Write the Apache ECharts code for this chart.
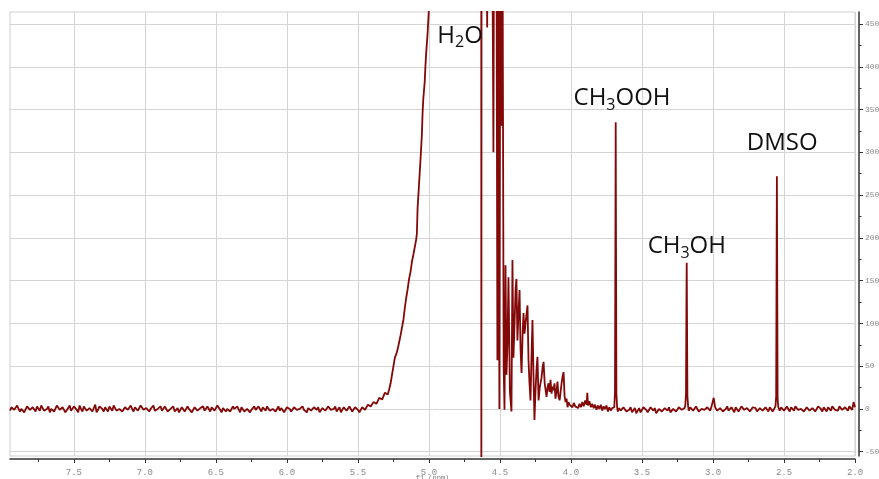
<!DOCTYPE html>
<html><head><meta charset="utf-8">
<script src="https://cdn.jsdelivr.net/npm/echarts@6/dist/echarts.min.js"></script>
<style>html,body{margin:0;padding:0;background:#fff}#c{width:879px;height:479px}</style>
</head><body><div id="c"></div>
<script>
// ---- axis ticks ----
const xTicks = [2.0, 2.5, 3.0, 3.5, 4.0, 4.5, 5.0, 5.5, 6.0, 6.5, 7.0, 7.5];
const xMinorTicks = [2.25, 2.75, 3.25, 3.75, 4.25, 4.75, 5.25, 5.75, 6.25, 6.75, 7.25, 7.75];
const yTicks = [-50, 0, 50, 100, 150, 200, 250, 300, 350, 400, 450];
const yMinorTicks = [-25, 25, 75, 125, 175, 225, 275, 325, 375, 425];
const xRange = [2.0, 7.95];
const yRange = [-55, 464];

// ---- spectrum: [ppm, intensity] ----
const baselineLeft = [
[7.95,-2],[7.93,1],[7.91,-3],[7.89,2],[7.87,0],[7.85,-4],[7.83,3],[7.81,-1],[7.79,2],[7.77,-3],
[7.75,1],[7.73,4],[7.71,-2],[7.69,0],[7.67,-4],[7.65,2],[7.63,-1],[7.61,3],[7.59,-3],[7.57,1],
[7.55,-2],[7.53,4],[7.51,-1],[7.49,2],[7.47,-4],[7.45,0],[7.43,3],[7.41,-2],[7.39,1],[7.37,-3],
[7.35,5],[7.33,-1],[7.31,2],[7.29,-3],[7.27,0],[7.25,3],[7.23,-2],[7.21,1],[7.19,-4],[7.17,2],
[7.15,-1],[7.13,3],[7.11,-3],[7.09,0],[7.07,2],[7.05,-2],[7.03,4],[7.01,-1],[6.99,1],[6.97,-3],
[6.95,2],[6.93,-2],[6.91,0],[6.89,3],[6.87,-4],[6.85,1],[6.83,-1],[6.81,2],[6.79,-3],[6.77,1],
[6.75,-2],[6.73,3],[6.71,-1],[6.69,0],[6.67,-4],[6.65,2],[6.63,-2],[6.61,1],[6.59,3],[6.57,-3],
[6.55,0],[6.53,2],[6.51,-2],[6.49,4],[6.47,-1],[6.45,1],[6.43,-3],[6.41,2],[6.39,-1],[6.37,0],
[6.35,3],[6.33,-4],[6.31,1],[6.29,-2],[6.27,2],[6.25,-1],[6.23,3],[6.21,-3],[6.19,0],[6.17,2],
[6.15,-2],[6.13,1],[6.11,-4],[6.09,2],[6.07,0],[6.05,-2],[6.03,3],[6.01,-1],[5.99,1],[5.97,-3],
[5.95,2],[5.93,-1],[5.91,0],[5.89,3],[5.87,-3],[5.85,1],[5.83,-2],[5.81,2],[5.79,-1],[5.77,-4],
[5.75,1],[5.73,-2],[5.71,3],[5.69,-1],[5.67,0],[5.65,-3],[5.63,2],[5.61,-1],[5.59,1],[5.57,-4],
[5.55,0],[5.53,-2],[5.51,1],[5.49,-4],[5.47,2],[5.45,-1]
];
const baselineLeftBetween = [
[7.94,2],[7.92,-1],[7.90,4],[7.88,-3],[7.86,1],[7.84,-2],[7.82,5],[7.80,-3],[7.78,0],[7.76,3],
[7.74,-2],[7.72,1],[7.70,-4],[7.68,3],[7.66,0],[7.64,-3],[7.62,4],[7.60,-1],[7.58,2],[7.56,-4],
[7.54,1],[7.52,-2],[7.50,3],[7.48,-1],[7.46,4],[7.44,-3],[7.42,1],[7.40,-2],[7.38,3],[7.36,-1],
[7.34,-4],[7.32,3],[7.30,0],[7.28,2],[7.26,-3],[7.24,1],[7.22,4],[7.20,-2],[7.18,0],[7.16,-3],
[7.14,2],[7.12,-1],[7.10,4],[7.08,-3],[7.06,1],[7.04,-1],[7.02,2],[7.00,-3],[6.98,3],[6.96,0],
[6.94,4],[6.92,-3],[6.90,1],[6.88,-2],[6.86,3],[6.84,-3],[6.82,0],[6.80,3],[6.78,-1],[6.76,-4],
[6.74,2],[6.72,-3],[6.70,3],[6.68,1],[6.66,-2],[6.64,3],[6.62,-4],[6.60,0],[6.58,-2],[6.56,3],
[6.54,-3],[6.52,1],[6.50,-1],[6.48,2],[6.46,-4],[6.44,3],[6.42,0],[6.40,-3],[6.38,3],[6.36,-2],
[6.34,1],[6.32,2],[6.30,-3],[6.28,0],[6.26,-4],[6.24,1],[6.22,-1],[6.20,3],[6.18,-3],[6.16,1],
[6.14,3],[6.12,-2],[6.10,0],[6.08,-3],[6.06,3],[6.04,1],[6.02,-4],[6.00,2],[5.98,0],[5.96,-2],
[5.94,3],[5.92,-3],[5.90,2],[5.88,-1],[5.86,-4],[5.84,3],[5.82,-3],[5.80,1],[5.78,2],[5.76,-2],
[5.74,3],[5.72,-4],[5.70,1],[5.68,-3],[5.66,3],[5.64,-1],[5.62,-4],[5.60,2],[5.58,-2],[5.56,3],
[5.54,-3],[5.52,2],[5.50,-1],[5.48,-3],[5.46,3]
];
const waterRise = [
[5.43,5],[5.41,3],[5.39,8],[5.37,6],[5.35,13],[5.33,11],[5.31,19],[5.29,17],[5.28,23],[5.27,30],
[5.26,40],[5.25,50],[5.24,60],[5.23,64],[5.22,70],[5.21,78],[5.20,86],[5.19,95],[5.18,104],[5.17,118],
[5.16,130],[5.15,140],[5.14,152],[5.13,160],[5.12,172],[5.11,180],[5.10,189],[5.09,198],[5.085,205],[5.08,235],
[5.07,262],[5.06,290],[5.05,320],[5.045,345],[5.04,362],[5.035,372],[5.03,382],[5.025,400],[5.02,415],[5.01,438],
[5.00,468],[4.99,520],[4.97,700],[4.93,1200],[4.85,2500],[4.78,3000],[4.72,2400],[4.67,1400],[4.64,1000]
];
const waterSide = [
[4.632,900],[4.631,-90],[4.629,900],[4.60,800],[4.590,446],[4.585,760],[4.555,600],[4.546,300],[4.540,700],[4.532,560],
[4.525,600],[4.518,57],[4.512,520],[4.504,0],[4.497,600],[4.490,331],[4.482,560],[4.474,50],[4.468,-1],[4.461,168],
[4.454,40],[4.447,77],[4.440,154],[4.430,20],[4.419,-3],[4.412,174],[4.405,60],[4.398,96],[4.390,140],[4.384,152],
[4.377,80],[4.370,110],[4.362,139],[4.355,70],[4.348,42],[4.340,90],[4.334,112],[4.327,88],[4.320,100],[4.306,121],
[4.299,57],[4.292,30],[4.285,10],[4.278,60],[4.271,104],[4.264,40],[4.257,-13],[4.250,20],[4.243,45],[4.236,61],
[4.228,10],[4.220,25],[4.207,37],[4.200,48],[4.193,55],[4.185,30],[4.172,14],[4.165,25],[4.158,30],[4.151,20],
[4.144,34],[4.137,18],[4.130,26],[4.123,22],[4.116,30],[4.109,12],[4.102,20],[4.095,32],[4.088,15],[4.080,10],
[4.073,20],[4.066,30],[4.059,38],[4.052,43],[4.045,15],[4.038,8],[4.031,12],[4.024,2],[4.017,8],[4.010,5]
];
const rightRegion = [
[4.00,6],[3.99,2],[3.98,7],[3.97,3],[3.96,5],[3.95,1],[3.94,6],[3.93,2],[3.92,8],[3.91,3],
[3.90,10],[3.89,5],[3.885,19],[3.88,4],[3.87,9],[3.86,2],[3.85,6],[3.84,1],[3.83,5],[3.82,-1],
[3.81,4],[3.80,0],[3.79,5],[3.78,-2],[3.77,3],[3.76,0],[3.75,4],[3.74,-3],[3.73,2],[3.72,-2],
[3.71,1],[3.70,-1],[3.695,2],[3.690,20],[3.687,200],[3.685,335],[3.683,200],[3.680,18],[3.675,2],[3.67,-3],
[3.66,1],[3.64,-4],[3.62,0],[3.60,-3],[3.58,2],[3.56,-2],[3.54,-5],[3.52,1],[3.50,-3],[3.48,0],
[3.46,-4],[3.44,2],[3.42,-2],[3.40,-5],[3.38,0],[3.36,-3],[3.34,1],[3.32,-2],[3.30,-4],[3.28,0],
[3.26,-3],[3.24,2],[3.22,-1],[3.20,1],[3.195,4],[3.19,18],[3.187,120],[3.185,171],[3.183,110],[3.18,15],
[3.175,3],[3.17,-2],[3.15,1],[3.13,-3],[3.11,0],[3.09,-2],[3.07,2],[3.05,-3],[3.03,0],[3.01,3],
[2.995,13],[2.985,2],[2.97,-2],[2.95,1],[2.93,-3],[2.91,0],[2.89,-2],[2.87,2],[2.85,-4],[2.83,0],
[2.81,-2],[2.79,1],[2.77,-3],[2.75,2],[2.73,-1],[2.71,0],[2.69,-3],[2.67,1],[2.65,-2],[2.63,2],
[2.61,-3],[2.59,0],[2.57,-1],[2.56,3],[2.555,15],[2.552,180],[2.550,272],[2.548,170],[2.545,12],[2.54,2],
[2.53,-2],[2.51,1],[2.49,-3],[2.47,0],[2.45,2],[2.43,-2],[2.41,1],[2.39,-3],[2.37,2],[2.35,-1],
[2.33,0],[2.31,-3],[2.29,2],[2.27,-1],[2.25,1],[2.23,-3],[2.21,0],[2.19,2],[2.17,-2],[2.15,1],
[2.13,-3],[2.11,3],[2.09,-1],[2.07,2],[2.05,-2],[2.03,5],[2.02,-1],[2.01,8],[2.00,2]
];
const rightRegionBetween = [
[3.65,-2],[3.63,2],[3.61,-3],[3.59,-1],[3.57,-4],[3.55,1],[3.53,-2],[3.51,-4],[3.49,2],[3.47,-1],
[3.45,-3],[3.43,0],[3.41,1],[3.39,-3],[3.37,2],[3.35,-4],[3.33,-1],[3.31,2],[3.29,-2],[3.27,1],
[3.25,-4],[3.23,0],[3.21,-3],[3.16,2],[3.14,-2],[3.12,3],[3.10,-3],[3.08,0],[3.06,-1],[3.04,2],
[3.02,-2],[2.96,-3],[2.94,2],[2.92,-1],[2.90,3],[2.88,-3],[2.86,0],[2.84,2],[2.82,-3],[2.80,3],
[2.78,-1],[2.76,1],[2.74,-3],[2.72,2],[2.70,1],[2.68,-2],[2.66,3],[2.64,-3],[2.62,0],[2.60,2],
[2.58,-3],[2.52,2],[2.50,-2],[2.48,3],[2.46,-3],[2.44,1],[2.42,3],[2.40,-1],[2.38,0],[2.36,-3],
[2.34,2],[2.32,-2],[2.30,1],[2.28,-3],[2.26,3],[2.24,0],[2.22,2],[2.20,-3],[2.18,1],[2.16,3],
[2.14,-1],[2.12,-2],[2.10,2],[2.08,-3],[2.06,1],[2.04,3]
];

// ---- annotations (anchor = top-left of the capital letters, in data coords) ----
const annotationText = ['{m|H}{s|2}{m|O}', '{m|CH}{s|3}{m|OOH}', '{m|CH}{s|3}{m|OH}', '{m|DMSO}'];
const annotationPpm = [4.941, 3.982, 3.460, 2.762];
const annotationVal = [448, 375, 202, 322];

const spectrum = [].concat(baselineLeft, baselineLeftBetween, waterRise, waterSide, rightRegion, rightRegionBetween)
  .sort((a, b) => b[0] - a[0]);

const chart = echarts.init(document.getElementById('c'), null, {renderer: 'canvas'});
const tickFont = 'Liberation Mono, DejaVu Sans Mono, monospace';
const gridColor = '#d4d4d4';

chart.setOption({
  animation: false,
  backgroundColor: '#ffffff',
  grid: {left: 10, right: 24, top: 12, bottom: 23, show: true, borderColor: '#cfcfcf', borderWidth: 1,
    containLabel: false, outerBoundsMode: 'none'},
  xAxis: [{
    type: 'value', inverse: true, min: xRange[0], max: xRange[1], position: 'bottom', offset: 3,
    name: 'f1 (ppm)', nameLocation: 'middle', nameGap: 16, nameMoveOverlap: false,
    nameTextStyle: {fontSize: 7, color: '#777', fontFamily: tickFont},
    axisLine: {show: true, onZero: false, lineStyle: {color: '#333', width: 1.5}},
    axisTick: {show: true, length: 4, customValues: xTicks, lineStyle: {color: '#333'}},
    axisLabel: {customValues: xTicks, margin: 9, fontSize: 9, color: '#8a8a8a', fontFamily: tickFont,
      formatter: v => v.toFixed(1)},
    splitLine: {show: true, lineStyle: {color: gridColor, width: 1}}
  }, {
    type: 'value', inverse: true, min: xRange[0], max: xRange[1], position: 'bottom', offset: 3,
    axisLine: {show: false, onZero: false},
    axisTick: {show: true, length: 3, customValues: xMinorTicks, lineStyle: {color: '#333'}},
    axisLabel: {show: false}, splitLine: {show: false}
  }],
  yAxis: [{
    type: 'value', min: yRange[0], max: yRange[1], position: 'right', offset: 4,
    axisLine: {show: true, onZero: false, lineStyle: {color: '#333', width: 1.5}},
    axisTick: {show: true, length: 4, customValues: yTicks, lineStyle: {color: '#333'}},
    axisLabel: {customValues: yTicks, margin: 6, fontSize: 8, color: '#8a8a8a', fontFamily: tickFont},
    splitLine: {show: true, lineStyle: {color: gridColor, width: 1}}
  }, {
    type: 'value', min: yRange[0], max: yRange[1], position: 'right', offset: 4,
    axisLine: {show: false, onZero: false},
    axisTick: {show: true, length: 2.5, customValues: yMinorTicks, lineStyle: {color: '#333'}},
    axisLabel: {show: false}, splitLine: {show: false}
  }],
  series: [{
    type: 'line', xAxisIndex: 0, yAxisIndex: 0, data: spectrum,
    showSymbol: false, symbol: 'none', clip: true,
    lineStyle: {color: '#830808', width: 1.8}
  }]
});

const rich = {
  m: {fontSize: 24, fontFamily: 'Open Sans, Noto Sans, sans-serif', fill: '#111', lineHeight: 30},
  s: {fontSize: 16, fontFamily: 'Open Sans, Noto Sans, sans-serif', fill: '#111', lineHeight: 12, verticalAlign: 'bottom'}
};
const graphics = annotationText.map((t, i) => {
  const p = chart.convertToPixel({xAxisIndex: 0, yAxisIndex: 0}, [annotationPpm[i], annotationVal[i]]);
  return {type: 'text', x: p[0], y: p[1] - 5, z: 10,
    style: {text: t, rich: rich, align: 'left', verticalAlign: 'top'}};
});
chart.setOption({graphic: graphics});
</script></body></html>
